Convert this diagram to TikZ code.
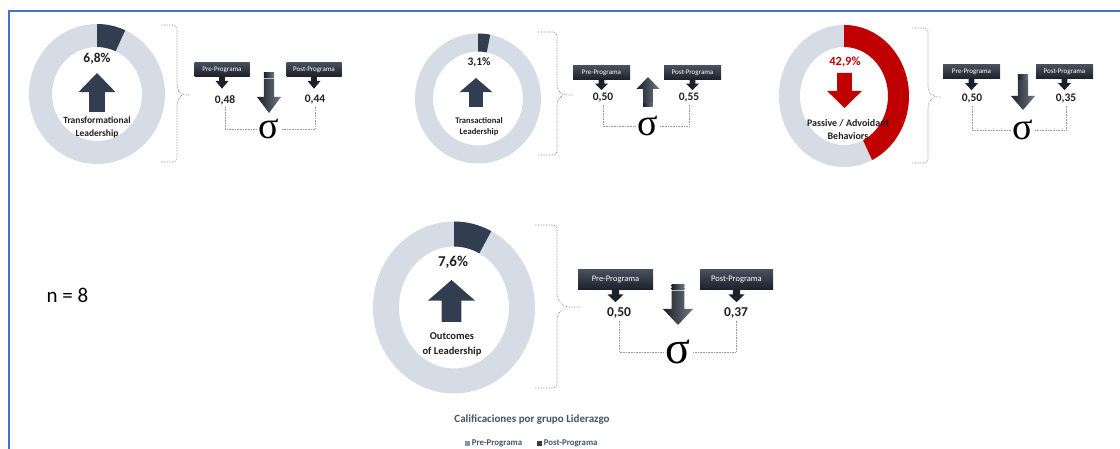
\documentclass[tikz,border=0pt]{standalone}
\usepackage{fontspec}
\setmainfont{Carlito}
\newfontfamily\sigmafont{Liberation Serif}
\usetikzlibrary{positioning}

\definecolor{ringgrey}{HTML}{D6DCE5}
\definecolor{slatedark}{HTML}{323E4F}
\definecolor{alertred}{HTML}{C00000}
\definecolor{boxtop}{HTML}{474F5D}
\definecolor{boxbot}{HTML}{1B2029}
\definecolor{txtdark}{HTML}{1F1F1F}
\definecolor{framblue}{HTML}{4472C4}
\definecolor{legpre}{HTML}{8497B0}
\definecolor{titlegrey}{HTML}{44546A}

\tikzset{
  pics/headarrow/.style={code={
    \path[pic actions] (-0.42,-1) -- (-0.42,0.02) -- (-1,0.02) -- (0,1) -- (1,0.02) -- (0.42,0.02) -- (0.42,-1) -- cycle;
  }},
  pics/stripearrow/.style={code={
    \path[pic actions] (-0.42,-0.72) -- (-0.42,0.2) -- (-1,0.2) -- (0,1) -- (1,0.2) -- (0.42,0.2) -- (0.42,-0.72) -- cycle;
    \path[pic actions] (-0.42,-0.86) rectangle (0.42,-0.77);
    \path[pic actions] (-0.42,-1) rectangle (0.42,-0.91);
  }},
  pics/tinyarrow/.style={code={
    \path[pic actions] (-0.45,-1) -- (-0.45,-0.3) -- (-1,-0.3) -- (0,1) -- (1,-0.3) -- (0.45,-0.3) -- (0.45,-1) -- cycle;
  }},
}

\begin{document}
\begin{tikzpicture}[x=1pt, y=1pt,
    ring/.style={fill=ringgrey, even odd rule},
    pct/.style={font=\bfseries\fontsize{13.5}{15}\selectfont, text=txtdark},
    lbl/.style={align=center, font=\bfseries\fontsize{9.5}{12.5}\selectfont, text=txtdark},
    prog/.style={minimum width=55pt, minimum height=14pt, inner sep=0pt, top color=boxtop, bottom color=boxbot, text=white, font=\fontsize{7}{8}\selectfont},
    val/.style={font=\bfseries\fontsize{11.5}{12}\selectfont, text=txtdark, inner sep=2pt},
    sig/.style={font=\sigmafont\fontsize{38}{40}\selectfont, inner sep=2pt},
    dotline/.style={densely dotted, gray!80, line width=0.6pt},
    bracedot/.style={densely dotted, gray!90!black, line width=0.6pt, rounded corners=4pt},
    bigshade/.style={left color=boxbot, right color=slatedark!70!white},
]
\useasboundingbox (0,0) rectangle (1120,-449);

% Frame
\draw[framblue, line width=2pt] (9,-449) -- (9,-11) -- (1125,-11);

% Transformational Leadership
\fill[ring] (97,-94) ellipse [x radius=68, y radius=70] (97,-94) ellipse [x radius=45, y radius=47];
\fill[slatedark, shift={(97,-94)}] (90:68 and 70) arc[start angle=90, end angle=65.5, x radius=68, y radius=70]
    -- (65.5:45 and 47) arc[start angle=65.5, end angle=90, x radius=45, y radius=47] -- cycle;
\node[pct] (pct1) at (97,-59) {6,8\%};
\pic[fill=slatedark, xscale=18.5, yscale=19.5] at (97,-92.5) {headarrow};
\node[lbl] (lbl1) at (97,-127.5) {Transformational\\Leadership};
\draw[bracedot] (161,-25) -- (177,-25) -- (177,-89) -- (182,-95) -- (190,-95);
\draw[bracedot] (161,-162) -- (177,-162) -- (177,-101) -- (182,-95);

\node[prog] (pre1) at (222,-69.5) {Pre-Programa};
\node[prog] (post1) at (314,-69.5) {Post-Programa};
\pic[fill=boxbot, xscale=6.5, yscale=-6] at ([yshift=-6pt]pre1.south) {tinyarrow};
\pic[fill=boxbot, xscale=6.5, yscale=-6] at ([yshift=-6pt]post1.south) {tinyarrow};
\node[val] (pre1v) at (225,-100) {0,48};
\node[val] (post1v) at (315,-100) {0,44};
\pic[bigshade, xscale=12, yscale=-20] at (269,-93) {stripearrow};
\node[sig] (sig1) at (269,-129) {σ};
\draw[dotline] (pre1v.south) |- (sig1.west);
\draw[dotline] (post1v.south) |- (sig1.east);

% Transactional Leadership
\fill[ring] (478,-98.5) ellipse [x radius=63, y radius=65] (478,-98.5) ellipse [x radius=45, y radius=47];
\fill[slatedark, shift={(478,-98.5)}] (90:63 and 65) arc[start angle=90, end angle=78.8, x radius=63, y radius=65]
    -- (78.8:45 and 47) arc[start angle=78.8, end angle=90, x radius=45, y radius=47] -- cycle;
\node[pct, font=\bfseries\fontsize{11.5}{13}\selectfont] (pct2) at (479,-62) {3,1\%};
\pic[fill=slatedark, xscale=16.5, yscale=14.5] at (476,-92.5) {headarrow};
\node[lbl, font=\bfseries\fontsize{8.6}{11.5}\selectfont] (lbl2) at (479,-126.5) {Transactional\\Leadership};
\draw[bracedot] (538,-32) -- (557,-32) -- (557,-89) -- (563,-95) -- (574,-95);
\draw[bracedot] (538,-155) -- (557,-155) -- (557,-101) -- (563,-95);

\node[prog, minimum width=57pt] (pre2) at (601.5,-73) {Pre-Programa};
\node[prog, minimum width=57pt] (post2) at (692.5,-73) {Post-Programa};
\pic[fill=boxbot, xscale=6.5, yscale=-5] at ([yshift=-5pt]pre2.south) {tinyarrow};
\pic[fill=boxbot, xscale=6.5, yscale=-5] at ([yshift=-5pt]post2.south) {tinyarrow};
\node[val] (pre2v) at (603,-98) {0,50};
\node[val] (post2v) at (689,-98) {0,55};
\pic[bigshade, xscale=11.5, yscale=15] at (648,-92) {stripearrow};
\node[sig] (sig2) at (648,-126) {σ};
\draw[dotline] (pre2v.south) |- (sig2.west);
\draw[dotline] (post2v.south) |- (sig2.east);

% Passive / Advoidant Behaviors
\fill[ring] (844,-96) ellipse [x radius=65, y radius=71] (844,-96) ellipse [x radius=44, y radius=49];
\fill[alertred, shift={(844,-96)}] (90:65 and 71) arc[start angle=90, end angle=-64.4, x radius=65, y radius=71]
    -- (-64.4:44 and 49) arc[start angle=-64.4, end angle=90, x radius=44, y radius=49] -- cycle;
\node[pct, font=\bfseries\fontsize{12.5}{14}\selectfont, text=alertred] (pct3) at (845,-62) {42,9\%};
\pic[fill=alertred, xscale=17.5, yscale=-17.5] at (844.5,-90.5) {headarrow};
\node[lbl, font=\bfseries\fontsize{10}{13}\selectfont] (lbl3) at (848,-129.5) {Passive / Advoidant\\Behaviors};
\draw[bracedot] (912,-28) -- (928,-28) -- (928,-91) -- (934,-97) -- (942,-97);
\draw[bracedot] (912,-163) -- (928,-163) -- (928,-103) -- (934,-97);

\node[prog, minimum width=57pt] (pre3) at (971.5,-72) {Pre-Programa};
\node[prog, minimum width=57pt] (post3) at (1064.5,-72) {Post-Programa};
\pic[fill=boxbot, xscale=6.5, yscale=-5.5] at ([yshift=-5.5pt]pre3.south) {tinyarrow};
\pic[fill=boxbot, xscale=6.5, yscale=-5.5] at ([yshift=-5.5pt]post3.south) {tinyarrow};
\node[val] (pre3v) at (972,-99) {0,50};
\node[val] (post3v) at (1066,-99) {0,35};
\pic[bigshade, xscale=12, yscale=-17.5] at (1023,-92.5) {stripearrow};
\node[sig] (sig3) at (1023,-130) {σ};
\draw[dotline] (pre3v.south) |- (sig3.west);
\draw[dotline] (post3v.south) |- (sig3.east);

% Outcomes of Leadership
\fill[ring] (454,-307.5) ellipse [x radius=81, y radius=86] (454,-307.5) ellipse [x radius=55, y radius=61];
\fill[slatedark, shift={(454,-307.5)}] (90:81 and 86) arc[start angle=90, end angle=62.6, x radius=81, y radius=86]
    -- (62.6:55 and 61) arc[start angle=62.6, end angle=90, x radius=55, y radius=61] -- cycle;
\node[pct, font=\bfseries\fontsize{15}{17}\selectfont] (pct4) at (453,-262) {7,6\%};
\pic[fill=slatedark, xscale=23.5, yscale=21] at (451.5,-301) {headarrow};
\node[lbl, font=\bfseries\fontsize{10.5}{15}\selectfont] (lbl4) at (452,-344.5) {Outcomes\\of Leadership};
\draw[bracedot] (535,-225) -- (557,-225) -- (557,-299) -- (565,-307) -- (580,-307);
\draw[bracedot] (535,-388) -- (557,-388) -- (557,-315) -- (565,-307);

\node[prog, minimum width=75pt, minimum height=20pt, font=\fontsize{8.5}{10}\selectfont] (pre4) at (615.5,-280) {Pre-Programa};
\node[prog, minimum width=73pt, minimum height=20pt, font=\fontsize{8.5}{10}\selectfont] (post4) at (736.5,-280) {Post-Programa};
\pic[fill=boxbot, xscale=8, yscale=-6] at ([yshift=-6pt]pre4.south) {tinyarrow};
\pic[fill=boxbot, xscale=8, yscale=-6] at ([yshift=-6pt]post4.south) {tinyarrow};
\node[val, font=\bfseries\fontsize{13.5}{15}\selectfont] (pre4v) at (619,-313) {0,50};
\node[val, font=\bfseries\fontsize{13.5}{15}\selectfont] (post4v) at (736,-313) {0,37};
\pic[bigshade, xscale=15, yscale=-20] at (678,-305) {stripearrow};
\node[sig, font=\sigmafont\fontsize{46}{48}\selectfont] (sig4) at (678,-352) {σ};
\draw[dotline] (pre4v.south) |- (sig4.west);
\draw[dotline] (post4v.south) |- (sig4.east);

% Sample size
\node[font=\fontsize{21}{24}\selectfont] (nlabel) at (67.5,-295) {n = 8};

% Legend
\node[font=\bfseries\fontsize{11}{13}\selectfont, text=titlegrey] (ttl) at (532,-420) {Calificaciones por grupo Liderazgo};
\node[fill=legpre, minimum size=5pt, inner sep=0pt] (legpre) at (467.5,-443) {};
\node[right=1.5pt of legpre, inner sep=0pt, font=\bfseries\fontsize{8.8}{10}\selectfont, text=titlegrey] (legpret) {Pre-Programa};
\node[fill=slatedark, minimum size=5pt, inner sep=0pt] (legpost) at (539.5,-443) {};
\node[right=1.5pt of legpost, inner sep=0pt, font=\bfseries\fontsize{8.8}{10}\selectfont, text=titlegrey] (legpostt) {Post-Programa};

\end{tikzpicture}
\end{document}
